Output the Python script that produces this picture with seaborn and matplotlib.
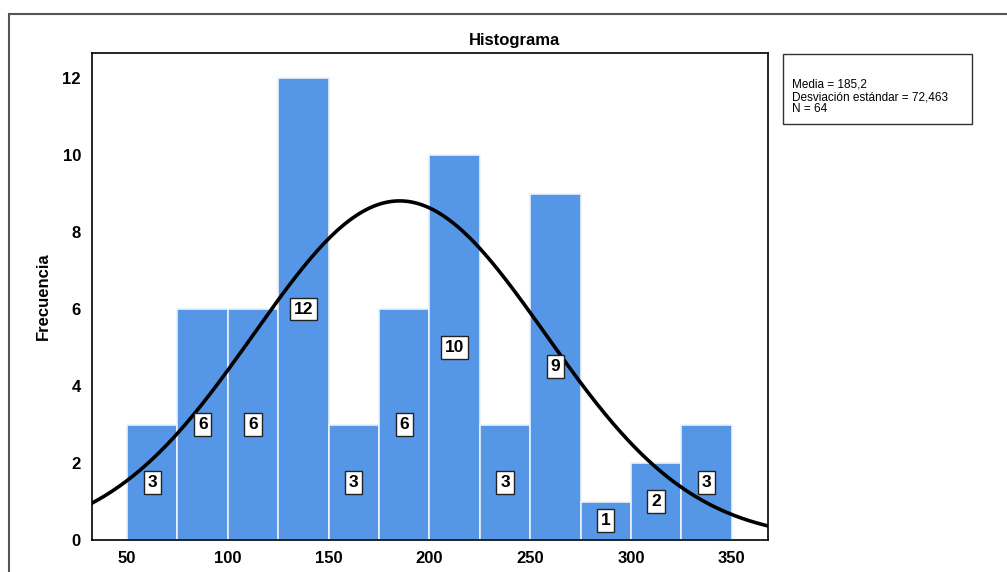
import numpy as np
import pandas as pd
import matplotlib
matplotlib.use("Agg")
import matplotlib.pyplot as plt
from matplotlib.patches import Rectangle
import seaborn as sns

# Histogram data (bin width 25, from 50 to 350)
bin_starts = [50, 75, 100, 125, 150, 175, 200, 225, 250, 275, 300, 325]
counts = [3, 6, 6, 12, 3, 6, 10, 3, 9, 1, 2, 3]
bin_width = 25
mean_val = 185.2
std_val = 72.463
n_total = 64
x_ticks = [50, 100, 150, 200, 250, 300, 350]
y_ticks = [0, 2, 4, 6, 8, 10, 12]

sns.set_style("white")
plt.rcParams["font.family"] = ["Liberation Sans", "DejaVu Sans"]
plt.rcParams["text.color"] = "black"
plt.rcParams["xtick.color"] = "black"
plt.rcParams["ytick.color"] = "black"
plt.rcParams["axes.labelcolor"] = "black"

df = pd.DataFrame({
    "centro": [b + bin_width / 2 for b in bin_starts],
    "frecuencia": counts,
})

fig = plt.figure(figsize=(10.07, 5.72), dpi=100)
ax = fig.add_axes([0.0914, 0.0559, 0.6713, 0.8514])

sns.histplot(
    data=df, x="centro", weights="frecuencia",
    binwidth=bin_width, binrange=(50, 350),
    color="#5596E6", alpha=1.0, edgecolor="#EAF2FC", linewidth=1.2,
    ax=ax,
)

# normal curve
xs = np.linspace(32.6, 368, 400)
ys = n_total * bin_width * np.exp(-0.5 * ((xs - mean_val) / std_val) ** 2) / (std_val * np.sqrt(2 * np.pi))
ax.plot(xs, ys, color="black", linewidth=2.6)

# count labels
for c, v in zip(df["centro"], df["frecuencia"]):
    ax.text(c, v / 2, str(v), ha="center", va="center", fontsize=12.5,
            fontweight="bold",
            bbox=dict(boxstyle="square,pad=0.22", facecolor="white",
                      edgecolor="#222222", linewidth=1))

ax.set_xlim(32.6, 368)
ax.set_ylim(0, 12.65)
ax.set_xticks(x_ticks)
ax.set_yticks(y_ticks)
ax.tick_params(axis="both", length=0, labelsize=12, pad=8)
for lab in ax.get_xticklabels() + ax.get_yticklabels():
    lab.set_fontweight("bold")
ax.set_xlabel("")
ax.set_ylabel("Frecuencia", fontsize=12, fontweight="bold", labelpad=8)
for s in ax.spines.values():
    s.set_visible(True)
    s.set_color("black")
    s.set_linewidth(1.2)

fig.text(0.511, 0.930, "Histograma", ha="center", va="center",
         fontsize=12, fontweight="bold")

# stats box
box = Rectangle((783 / 1007, 1 - 124 / 572), (972 - 783) / 1007, 70 / 572,
                transform=fig.transFigure, facecolor="white",
                edgecolor="#333333", linewidth=1)
fig.patches.append(box)
fig.text(792 / 1007, 1 - 97 / 572,
         "Media = 185,2\nDesviación estándar = 72,463\nN = 64",
         ha="left", va="center", fontsize=8.5, linespacing=1.05)

# outer frame
frame = Rectangle((9 / 1007, -0.05), 1.1, 1 - 14 / 572 + 0.05,
                  transform=fig.transFigure, facecolor="none",
                  edgecolor="#555555", linewidth=1.5, clip_on=False)
fig.patches.append(frame)

fig.savefig("out.png", dpi=100)
